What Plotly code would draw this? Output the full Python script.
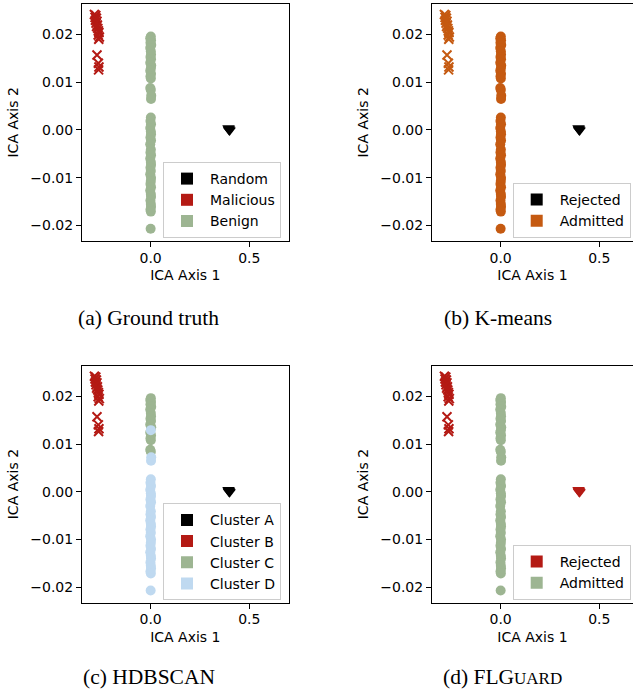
import plotly.graph_objects as go

# ---------------- data ----------------
benign_y = [0.0196, 0.0192, 0.0188, 0.0183, 0.0178, 0.0172, 0.0165, 0.0158, 0.0153,
            0.0148, 0.0141, 0.0135, 0.0129, 0.0124, 0.0118, 0.0112, 0.0108, 0.0088,
            0.0084, 0.0072, 0.0065, 0.0026, 0.0019, 0.0012, 0.0004, -0.0003, -0.0009,
            -0.0016, -0.0022, -0.0030, -0.0041, -0.0047, -0.0053, -0.0060, -0.0067,
            -0.0073, -0.0079, -0.0086, -0.0093, -0.0100, -0.0107, -0.0113, -0.0120,
            -0.0127, -0.0134, -0.0140, -0.0148, -0.0155, -0.0161, -0.0167, -0.0171,
            -0.0207]
benign_x = [0.001, -0.002, 0.002, -0.001, 0.003, -0.002, 0.001, 0.002, -0.001,
            0.002, -0.002, 0.003, 0.001, -0.002, 0.002, -0.001, 0.001, -0.002,
            0.001, 0.003, 0.002, 0.001, -0.001, 0.002, -0.002, 0.001, 0.002,
            -0.001, 0.002, -0.002, 0.001, -0.001, 0.002, -0.002, 0.001, 0.002,
            -0.001, 0.001, -0.002, 0.002, 0.001, -0.001, 0.002, -0.002, 0.001,
            0.002, -0.001, 0.001, 0.002, -0.001, 0.001, 0.000]
# HDBSCAN cluster of each benign point
hdb_labels = ["C", "C", "C", "C", "C", "C", "C", "C", "C",
              "C", "C", "C", "D", "C", "C", "C", "C", "C",
              "C", "D", "D", "D", "D", "D", "D", "D", "D",
              "D", "D", "D", "D", "D", "D", "D", "D", "D",
              "D", "D", "D", "D", "D", "D", "D", "D", "D",
              "D", "D", "D", "D", "D", "D", "D"]

malicious_x = [-0.285, -0.278, -0.282, -0.275, -0.280, -0.272, -0.277, -0.270, -0.274,
               -0.268, -0.265, -0.262, -0.266, -0.260, -0.263, -0.272, -0.265, -0.262,
               -0.264]
malicious_y = [0.0242, 0.0240, 0.0236, 0.0234, 0.0230, 0.0228, 0.0224, 0.0220, 0.0217,
               0.0213, 0.0208, 0.0204, 0.0199, 0.0195, 0.0190, 0.0157, 0.0140, 0.0132,
               0.0126]

random_x = [0.395, 0.397, 0.398, 0.400]
random_y = [0.0004, 0.0002, 0.0000, -0.0001]

y_ticks = [-0.02, -0.01, 0.0, 0.01, 0.02]
x_ticks = [0.0, 0.5]

# ---------------- styling ----------------
RED = "#b41a14"
GREEN = "#9db592"
BLUE = "#bfd9f0"
ORANGE = "#c55a11"
BLACK = "#000000"

CIRCLE = 10
XSIZE = 9
TRI = 11

fig = go.Figure()


def circles(x, y, color, ax):
    fig.add_trace(go.Scatter(x=x, y=y, mode="markers", xaxis="x" + ax, yaxis="y" + ax,
                             marker=dict(symbol="circle", size=CIRCLE, color=color,
                                         line=dict(width=0)),
                             showlegend=False, hoverinfo="skip"))


def crosses(x, y, color, ax):
    fig.add_trace(go.Scatter(x=x, y=y, mode="markers", xaxis="x" + ax, yaxis="y" + ax,
                             marker=dict(symbol="x-thin-open", size=XSIZE, color=color,
                                         line=dict(width=2, color=color)),
                             showlegend=False, hoverinfo="skip"))


def triangles(x, y, color, ax):
    fig.add_trace(go.Scatter(x=x, y=y, mode="markers", xaxis="x" + ax, yaxis="y" + ax,
                             marker=dict(symbol="triangle-down", size=TRI, color=color,
                                         line=dict(width=0)),
                             showlegend=False, hoverinfo="skip"))


def legend_entry(name, color, legend):
    fig.add_trace(go.Scatter(x=[None], y=[None], mode="markers", name=name,
                             marker=dict(symbol="square", size=10, color=color),
                             legend=legend, showlegend=True))


# (a) Ground truth
crosses(malicious_x, malicious_y, RED, "")
circles(benign_x, benign_y, GREEN, "")
triangles(random_x, random_y, BLACK, "")
for n, c in [("Random", BLACK), ("Malicious", RED), ("Benign", GREEN)]:
    legend_entry(n, c, "legend")

# (b) K-means
crosses(malicious_x, malicious_y, ORANGE, "2")
circles(benign_x, benign_y, ORANGE, "2")
triangles(random_x, random_y, BLACK, "2")
for n, c in [("Rejected", BLACK), ("Admitted", ORANGE)]:
    legend_entry(n, c, "legend2")

# (c) HDBSCAN
crosses(malicious_x, malicious_y, RED, "3")
cx = [x for x, l in zip(benign_x, hdb_labels) if l == "C"]
cy = [y for y, l in zip(benign_y, hdb_labels) if l == "C"]
dx = [x for x, l in zip(benign_x, hdb_labels) if l == "D"]
dy = [y for y, l in zip(benign_y, hdb_labels) if l == "D"]
circles(cx, cy, GREEN, "3")
circles(dx, dy, BLUE, "3")
triangles(random_x, random_y, BLACK, "3")
for n, c in [("Cluster A", BLACK), ("Cluster B", RED), ("Cluster C", GREEN), ("Cluster D", BLUE)]:
    legend_entry(n, c, "legend3")

# (d) FLGuard
crosses(malicious_x, malicious_y, RED, "4")
circles(benign_x, benign_y, GREEN, "4")
triangles(random_x, random_y, RED, "4")
for n, c in [("Rejected", RED), ("Admitted", GREEN)]:
    legend_entry(n, c, "legend4")

W, H = 633, 691
TICKF = dict(family="DejaVu Sans", size=14, color="#000")


def xaxis(dom, rng, anchor):
    return dict(domain=dom, range=rng, anchor=anchor, tickvals=x_ticks, tickformat=".1f",
                showline=True, mirror=True, linecolor="#000", linewidth=1,
                ticks="outside", ticklen=5, tickcolor="#000", showgrid=False, zeroline=False,
                tickfont=TICKF, ticklabelstandoff=-1,
                title=dict(text="ICA Axis 1", font=TICKF, standoff=5),
                automargin=False)


def yaxis(dom, anchor):
    return dict(domain=dom, range=[-0.0232, 0.0264], anchor=anchor, tickvals=y_ticks,
                tickformat=".2f", showline=True, mirror=True, linecolor="#000", linewidth=1,
                ticks="outside", ticklen=5, tickcolor="#000", showgrid=False, zeroline=False,
                tickfont=TICKF, title=dict(text="ICA Axis 2", font=TICKF, standoff=8),
                automargin=False)


xa = [82 / W, 288.7 / W]
xb = [432 / W, 1.0]
ytop = [1 - 240.7 / H, 1 - 4 / H]
ybot = [1 - 602.5 / H, 1 - 365.7 / H]
rng_a = [-0.348, 0.70]
rng_b = [-0.348, 0.671]


def leg(xl, yt):
    return dict(x=xl / W, y=1 - yt / H, xanchor="left", yanchor="top",
                bgcolor="rgba(255,255,255,0.8)", bordercolor="#cccccc", borderwidth=1,
                font=dict(family="DejaVu Sans", size=14, color="#000"),
                traceorder="normal", itemsizing="constant", itemwidth=36)


CAP = dict(family="Liberation Serif", size=21.5, color="#000")
annotations = [
    dict(text="(a) Ground truth", x=148 / W, y=1 - 318 / H),
    dict(text="(b) K-means", x=498 / W, y=1 - 318 / H),
    dict(text="(c) HDBSCAN", x=149 / W, y=1 - 677 / H),
    dict(text="(d) FLG<span style='font-size:17px'>UARD</span>", x=502 / W, y=1 - 677 / H),
]
for a in annotations:
    a.update(xref="paper", yref="paper", showarrow=False, font=CAP,
             xanchor="center", yanchor="middle")

fig.update_layout(
    width=W, height=H, margin=dict(l=0, r=0, t=0, b=0),
    paper_bgcolor="white", plot_bgcolor="white",
    xaxis=xaxis(xa, rng_a, "y"), yaxis=yaxis(ytop, "x"),
    xaxis2=xaxis(xb, rng_b, "y2"), yaxis2=yaxis(ytop, "x2"),
    xaxis3=xaxis(xa, rng_a, "y3"), yaxis3=yaxis(ybot, "x3"),
    xaxis4=xaxis(xb, rng_b, "y4"), yaxis4=yaxis(ybot, "x4"),
    legend=leg(163, 162), legend2=leg(512.7, 183),
    legend3=leg(163, 503.3), legend4=leg(512.7, 545),
    annotations=annotations,
)

fig.write_html("out.html", config={"displayModeBar": False},
               post_script="document.body.style.margin='0px';")
